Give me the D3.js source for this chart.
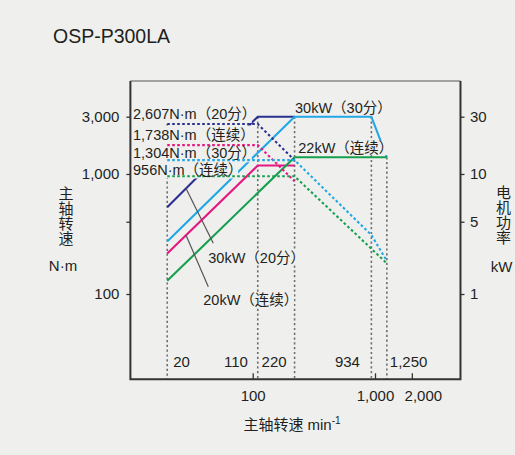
<!DOCTYPE html>
<html>
<head>
<meta charset="utf-8">
<script src="https://cdn.jsdelivr.net/npm/d3@7"></script>
<style>
  html, body { margin: 0; padding: 0; background: #eff0ee; }
  svg { display: block; font-family: "Liberation Sans", Arial, "Noto Sans CJK SC", sans-serif; }
</style>
</head>
<body>
<svg id="chart" width="515" height="455"></svg>
<script>
// ---- data ----------------------------------------------------------------
const title = "OSP-P300LA";

// spindle speed, min^-1
const speedMarks = [20, 110, 220, 934, 1250];
const speedMarkLabels = ["20", "110", "220", "934", "1,250"];
const speedTicks = [100, 1000, 2000];
const speedTickLabels = ["100", "1,000", "2,000"];

// torque axis, N·m
const torqueTicks = [100, 400, 1000, 3000];
const torqueTickLabels = ["100", "", "1,000", "3,000"];

// motor power axis, kW
const powerTicks = [1, 5, 10, 30];
const powerTickLabels = ["1", "5", "10", "30"];

// power curves (kW) per rating
const powerSpeed20min = [20, 110, 220];
const powerKw20min    = [6.16, 30, 30];
const powerSpeed30min = [20, 220, 934, 1250];
const powerKw30min    = [3.22, 30, 30, 22];
const powerSpeedCont20 = [20, 110, 220];
const powerKwCont20    = [2.46, 20, 20];
const powerSpeedCont22 = [20, 220, 1250];
const powerKwCont22    = [1.34, 22, 22];

// torque curves (N·m) per rating
const torqueSpeed20min = [20, 110, 220];
const torqueNm20min    = [2607, 2607, 1304];
const torqueSpeed30min = [20, 220, 934, 1250];
const torqueNm30min    = [1304, 1304, 310, 189];
const torqueSpeedCont20 = [20, 110, 220];
const torqueNmCont20    = [1738, 1738, 869];
const torqueSpeedCont22 = [20, 220, 1250];
const torqueNmCont22    = [956, 956, 180];

const torqueLabels = ["2,607N·m（20分）", "1,738N·m（连续）", "1,304N·m（30分）", "956N·m（连续）"];
const powerLabels  = ["30kW（30分）", "22kW（连续）", "30kW（20分）", "20kW（连续）"];

// ---- layout ----------------------------------------------------------------
const svg = d3.select("#chart");
const ink = "#231f20";
const bg = "#eff0ee";
const colors = { min20: "#2b2f8f", min30: "#22a7e6", cont20: "#e6177f", cont22: "#159f4e" };

const frameTop = 81, frameBottom = 379.3;
const x = d3.scaleLog().domain([100, 1000]).range([252.7, 375]);
const xLeft = x(10), xRight = x(5000);
const yT = d3.scaleLog().domain([100, 3000]).range([294, 116.7]);
// kW axis follows the catalogue's own calibration against the torque axis
const yP = d3.scaleLog()
  .domain([1, 5, 10, 20, 22, 30])
  .range([100, 400, 1000, 1175, 1380, 3000].map(yT));

const powerSeries = [
  { key: "min20",  s: powerSpeed20min,  v: powerKw20min },
  { key: "min30",  s: powerSpeed30min,  v: powerKw30min },
  { key: "cont20", s: powerSpeedCont20, v: powerKwCont20 },
  { key: "cont22", s: powerSpeedCont22, v: powerKwCont22 }
].map(d => ({ key: d.key, pts: d.s.map((sp, i) => [x(sp), yP(d.v[i])]) }));

const torqueSeries = [
  { key: "min20",  s: torqueSpeed20min,  v: torqueNm20min },
  { key: "cont20", s: torqueSpeedCont20, v: torqueNmCont20 },
  { key: "min30",  s: torqueSpeed30min,  v: torqueNm30min },
  { key: "cont22", s: torqueSpeedCont22, v: torqueNmCont22 }
].map(d => ({ key: d.key, pts: d.s.map((sp, i) => [x(sp), yT(d.v[i])]) }));

const line = d3.line();

// ---- title ----------------------------------------------------------------
svg.append("text").attr("x", 53).attr("y", 42.7)
  .attr("font-size", 19.5).attr("fill", ink).text(title);

// ---- vertical speed guides ----------------------------------------------------
const allPts = powerSeries.concat(torqueSeries).flatMap(d => d.pts);
speedMarks.forEach(sp => {
  const px = x(sp);
  const top = d3.min(allPts.filter(p => Math.abs(p[0] - px) < 0.01), p => p[1]);
  svg.append("line")
    .attr("x1", px).attr("x2", px).attr("y1", top).attr("y2", frameBottom)
    .attr("stroke", "#6f6f6f").attr("stroke-width", 1.6)
    .attr("stroke-dasharray", "2.2,2.6");
});

// speed values along the bottom
const markLayout = [
  { anchor: "start", dx: 6 },
  { anchor: "end", dx: -9.8 },
  { anchor: "end", dx: -8 },
  { anchor: "end", dx: -11.4 },
  { anchor: "start", dx: 3 }
];
speedMarks.forEach((sp, i) => {
  svg.append("text")
    .attr("x", x(sp) + markLayout[i].dx).attr("y", 366.7)
    .attr("text-anchor", markLayout[i].anchor)
    .attr("font-size", 15).attr("fill", ink)
    .text(speedMarkLabels[i]);
});

// ---- power curves (solid) -------------------------------------------------------
svg.append("g").selectAll("path").data(powerSeries).join("path")
  .attr("d", d => line(d.pts))
  .attr("fill", "none")
  .attr("stroke", d => colors[d.key])
  .attr("stroke-width", 2.1)
  .attr("stroke-linejoin", "miter");

// ---- label plates ----------------------------------------------------------
const torqueBaselines = [119, 140, 158.3, 174.5];
const powerLabelPos = [[295, 113.3], [298.3, 153.3], [208.3, 263.3], [203.3, 305]];
const labelSize = 14.5;

const plates = svg.append("g");
const labelTexts = svg.append("g");

function addLabel(tx, ty, str, above, below) {
  const t = labelTexts.append("text")
    .attr("x", tx).attr("y", ty)
    .attr("font-size", labelSize).attr("fill", ink)
    .text(str);
  const w = t.node().getComputedTextLength();
  plates.append("rect")
    .attr("x", tx - 1.5).attr("y", ty - above)
    .attr("width", w - 3).attr("height", above + below)
    .attr("fill", bg);
  return t;
}

// the torque notes sit in a stacked block, so their plates close up
torqueLabels.forEach((s, i) => addLabel(133, torqueBaselines[i], s, 14.5, 4));
powerLabels.forEach((s, i) => addLabel(powerLabelPos[i][0], powerLabelPos[i][1], s, 12.5, 1.8));

// ---- torque curves (dotted) -------------------------------------------------------
svg.append("g").selectAll("path").data(torqueSeries).join("path")
  .attr("d", d => line(d.pts))
  .attr("fill", "none")
  .attr("stroke", d => colors[d.key])
  .attr("stroke-width", 2.1)
  .attr("stroke-dasharray", "2.6,2.4");

labelTexts.raise();

// ---- leaders from the short-time and continuous ratings to their notes -------------
function pointOn(series, sp) {
  const p = series.pts;
  const px = x(sp);
  const t = (px - p[0][0]) / (p[1][0] - p[0][0]);
  return [px, p[0][1] + t * (p[1][1] - p[0][1])];
}
const leaders = [
  { from: pointOn(powerSeries[0], 28.5), to: [powerLabelPos[2][0] + 5, powerLabelPos[2][1] - 20] },
  { from: pointOn(powerSeries[2], 28.5), to: [powerLabelPos[3][0] + 5, powerLabelPos[3][1] - 18.3] }
];
leaders.forEach(l => {
  svg.append("line")
    .attr("x1", l.from[0]).attr("y1", l.from[1])
    .attr("x2", l.to[0]).attr("y2", l.to[1])
    .attr("stroke", "#555").attr("stroke-width", 1.2);
});

// ---- axes ----------------------------------------------------------------
const axisLeft = svg.append("g").attr("transform", `translate(${xLeft},0)`)
  .call(d3.axisLeft(yT).tickValues(torqueTicks)
    .tickFormat((d, i) => torqueTickLabels[i]).tickSize(4).tickPadding(7));

const axisRight = svg.append("g").attr("transform", `translate(${xRight},0)`)
  .call(d3.axisRight(yP).tickValues(powerTicks)
    .tickFormat((d, i) => powerTickLabels[i]).tickSize(4).tickPadding(5.5));

const axisBottom = svg.append("g").attr("transform", `translate(0,${frameBottom})`)
  .call(d3.axisBottom(x).tickValues(speedTicks)
    .tickFormat((d, i) => speedTickLabels[i]).tickSize(-6).tickPadding(10.7));
axisBottom.selectAll(".tick text").filter(d => d === 2000).attr("dx", 11);

[axisLeft, axisRight, axisBottom].forEach(g => {
  g.select(".domain").remove();
  g.selectAll(".tick line").attr("stroke", "#333").attr("stroke-width", 1.3);
  g.selectAll(".tick text").attr("font-size", 15).attr("fill", ink)
    .attr("font-family", "Liberation Sans, Arial, sans-serif");
});

// frame
svg.append("line").attr("x1", xLeft).attr("x2", xRight).attr("y1", frameTop).attr("y2", frameTop)
  .attr("stroke", "#555").attr("stroke-width", 1);
svg.append("path")
  .attr("d", `M${xLeft},${frameTop}V${frameBottom}H${xRight}V${frameTop}`)
  .attr("fill", "none").attr("stroke", "#333").attr("stroke-width", 2);

// ---- axis titles ----------------------------------------------------------
const xTitle = svg.append("text").attr("x", 292).attr("y", 430)
  .attr("text-anchor", "middle").attr("font-size", 15).attr("fill", ink);
xTitle.append("tspan").text("主轴转速 min");
xTitle.append("tspan").attr("dy", -6).attr("font-size", 10).text("-1");

// stacked (vertical) axis names
function vertical(cx, top, str) {
  svg.append("text")
    .attr("x", cx).attr("y", top)
    .attr("font-size", 15).attr("fill", ink)
    .style("writing-mode", "vertical-rl")
    .style("glyph-orientation-vertical", "0")
    .text(str);
}
vertical(65, 186, "主轴转速");
svg.append("text").attr("x", 63).attr("y", 265).attr("text-anchor", "middle")
  .attr("dominant-baseline", "central").attr("font-size", 15).attr("fill", ink).text("N·m");

vertical(502.5, 185, "电机功率");
svg.append("text").attr("x", 501.7).attr("y", 266.7).attr("text-anchor", "middle")
  .attr("dominant-baseline", "central").attr("font-size", 15).attr("fill", ink).text("kW");
</script>
</body>
</html>
